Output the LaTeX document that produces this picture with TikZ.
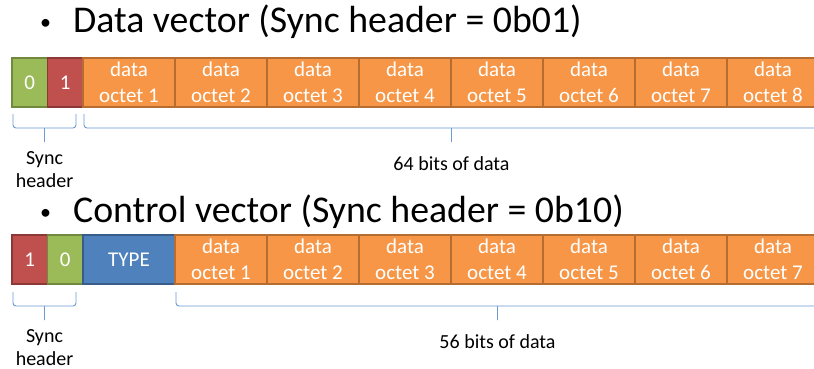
\documentclass[tikz,border=0pt]{standalone}
\usepackage{fontspec}
\setmainfont{Carlito}
\usetikzlibrary{positioning,calc}

\definecolor{syncgreen}{HTML}{9BBB59}
\definecolor{syncgreenline}{HTML}{71893F}
\definecolor{syncred}{HTML}{C0504D}
\definecolor{syncredline}{HTML}{8C3836}
\definecolor{octetorange}{HTML}{F79646}
\definecolor{octetline}{HTML}{B66D31}
\definecolor{typeblue}{HTML}{4F81BD}
\definecolor{typeline}{HTML}{385D8A}
\definecolor{bracecol}{HTML}{6C9BD2}

\newcommand{\titlebullet}{\raisebox{3pt}{\fontsize{22}{26}\selectfont\textbullet}\hspace{22pt}}

\begin{document}
\begin{tikzpicture}[
    x=1pt, y=-1pt,
    node distance=0pt,
    field/.style={rectangle, draw, line width=1.6pt, outer sep=0pt, minimum height=49pt, text=white, font=\fontsize{21}{26}\selectfont, align=center},
    zero/.style={field, minimum width=35.5pt, fill=syncgreen, draw=syncgreenline},
    one/.style={field, minimum width=35.5pt, fill=syncred, draw=syncredline},
    octet/.style={field, minimum width=92pt, fill=octetorange, draw=octetline},
    typefield/.style={field, minimum width=92pt, fill=typeblue, draw=typeline},
    title/.style={anchor=west, inner sep=0pt, font=\fontsize{37.8}{44}\selectfont},
    brace/.style={draw=bracecol, line width=0.9pt, rounded corners=3pt,
        to path={(\tikztostart) |- ($(\tikztostart)!.5!(\tikztotarget)+(0,14)$) -| (\tikztotarget)
                 ($(\tikztostart)!.5!(\tikztotarget)+(0,14)$) -- ++(0,14) \tikztonodes}},
    note/.style={font=\fontsize{20}{23}\selectfont, align=center, inner sep=0pt, anchor=north}
]
\clip (0,0) rectangle (814,369);
\fill[white] (0,0) rectangle (814,369);

% Data vector
\node[title] (datatitle) at (40,22) {\titlebullet Data vector (Sync header = 0b01)};

\node[zero, anchor=north west] (dzero) at (12,58) {0};
\node[one, right=of dzero] (done) {1};
\node[octet, right=of done] (d1) {data\\octet 1};
\node[octet, right=of d1] (d2) {data\\octet 2};
\node[octet, right=of d2] (d3) {data\\octet 3};
\node[octet, right=of d3] (d4) {data\\octet 4};
\node[octet, right=of d4] (d5) {data\\octet 5};
\node[octet, right=of d5] (d6) {data\\octet 6};
\node[octet, right=of d6] (d7) {data\\octet 7};
\node[octet, right=of d7] (d8) {data\\octet 8};

\draw[brace] ([xshift=1pt,yshift=-7pt]dzero.south west) to
    node[note, pos=1, below=9pt] (dsync) {Sync\\header} ([xshift=-7pt,yshift=-7pt]done.south east);
\draw[brace] ([xshift=1pt,yshift=-7pt]d1.south west) to
    node[note, pos=1, below=14pt] (dbits) {64 bits of data} ([yshift=-7pt]d8.south east);

% Control vector
\node[title] (ctrltitle) at (40,212) {\titlebullet Control vector (Sync header = 0b10)};

\node[one, anchor=north west] (cone) at (12,235) {1};
\node[zero, right=of cone] (czero) {0};
\node[typefield, right=of czero] (ctype) {TYPE};
\node[octet, right=of ctype] (c1) {data\\octet 1};
\node[octet, right=of c1] (c2) {data\\octet 2};
\node[octet, right=of c2] (c3) {data\\octet 3};
\node[octet, right=of c3] (c4) {data\\octet 4};
\node[octet, right=of c4] (c5) {data\\octet 5};
\node[octet, right=of c5] (c6) {data\\octet 6};
\node[octet, right=of c6] (c7) {data\\octet 7};

\draw[brace] ([xshift=1pt,yshift=-8pt]cone.south west) to
    node[note, pos=1, below=9pt] (csync) {Sync\\header} ([xshift=-7pt,yshift=-8pt]czero.south east);
\draw[brace] ([xshift=1pt,yshift=-8pt]ctype.south east) to
    node[note, pos=1, below=14pt] (cbits) {56 bits of data} ([yshift=-8pt]c7.south east);

\end{tikzpicture}
\end{document}
